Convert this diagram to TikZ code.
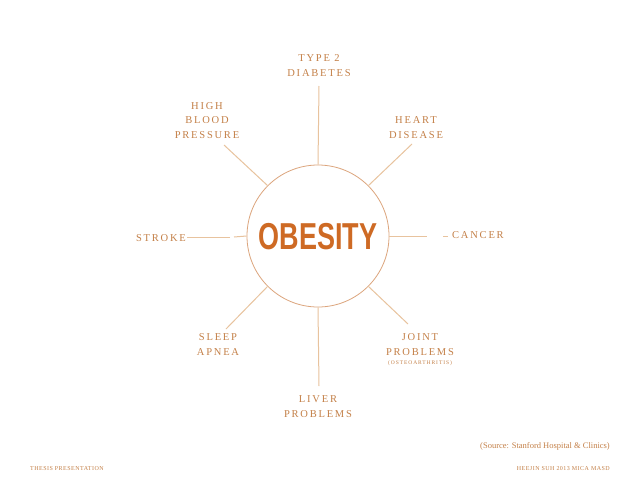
\documentclass[tikz,border=0pt]{standalone}
\usepackage{fontspec}
\setmainfont{Liberation Serif}
\newfontfamily\labfont[LetterSpace=17]{Liberation Serif}
\newfontfamily\footfont[LetterSpace=8]{Liberation Serif}
\newfontfamily\obfont{Liberation Sans}
\definecolor{labcol}{RGB}{196,128,72}
\definecolor{linecol}{RGB}{232,195,158}
\definecolor{circcol}{RGB}{220,165,125}
\definecolor{obcol}{RGB}{206,106,36}
\tikzset{
  lab/.style={text=labcol,align=center,inner sep=0pt,anchor=base,
    font=\labfont\fontsize{10.5}{14.5}\selectfont},
  conn/.style={draw=linecol,line width=1pt},
  foot/.style={text=labcol,inner sep=0pt,anchor=base,font=\footfont\fontsize{6}{7}\selectfont}
}
\begin{document}
\begin{tikzpicture}[x=1pt,y=-1pt]
\useasboundingbox[fill=white] (0,0) rectangle (638,493);
% central circle
\node[circle,draw=circcol,line width=0.8pt,minimum size=142pt,inner sep=0pt] (ob) at (318,236) {};
\node[anchor=base,inner sep=0pt,text=obcol,font=\obfont\bfseries\fontsize{37.5}{40}\selectfont] (obt) at (318,249) {\scalebox{0.72}[1]{OBESITY}};
% labels (base = baseline of last line)
\node[lab] (t2) at (319,76) {TYPE 2\\DIABETES};
\node[lab] (hbp) at (207,138) {HIGH\\BLOOD\\PRESSURE};
\node[lab] (hd) at (416,138) {HEART\\DISEASE};
\node[lab,anchor=base east] (st) at (186,241) {STROKE};
\node[lab,anchor=base west] (ca) at (452,238) {CANCER};
\node[lab] (sa) at (218,355) {SLEEP\\APNEA};
\node[lab] (jp) at (420,355) {JOINT\\PROBLEMS};
\node[text=labcol,inner sep=0pt,anchor=base,font=\labfont\fontsize{5.5}{6}\selectfont] (oa) at (420,364) {(OSTEOARTHRITIS)};
\node[lab] (lp) at (318,417) {LIVER\\PROBLEMS};
% free ends
\coordinate (ct) at (319,86);
\coordinate (cb) at (319,386);
\coordinate (cul) at (224,145);
\coordinate (cur) at (412,144);
\coordinate (cll) at (226,329);
\coordinate (clr) at (408,324);
\coordinate (cl1) at (234,237);
\coordinate (cl2) at (230,237);
\coordinate (cl3) at (187,237);
\coordinate (cr1) at (427,236);
\coordinate (cr2) at (443,236);
\coordinate (cr3) at (448,236);
% connectors
\draw[conn] (ob.90) -- (ct);
\draw[conn] (ob.270) -- (cb);
\draw[conn] (ob.135) -- (cul);
\draw[conn] (ob.45) -- (cur);
\draw[conn] (ob.225) -- (cll);
\draw[conn] (ob.315) -- (clr);
\draw[conn] (ob.180) -- (cl1);
\draw[conn] (cl2) -- (cl3);
\draw[conn] (ob.0) -- (cr1);
\draw[conn] (cr2) -- (cr3);
% footer
\node[text=labcol,inner sep=0pt,anchor=base east,font=\fontsize{8.5}{10}\selectfont] (src) at (610,448) {(Source: Stanford Hospital \& Clinics)};
\node[foot,anchor=base west] (fl) at (30,470) {THESIS PRESENTATION};
\node[foot,anchor=base east] (fr) at (610,470) {HEEJIN SUH 2013 MICA MASD};
\end{tikzpicture}
\end{document}
